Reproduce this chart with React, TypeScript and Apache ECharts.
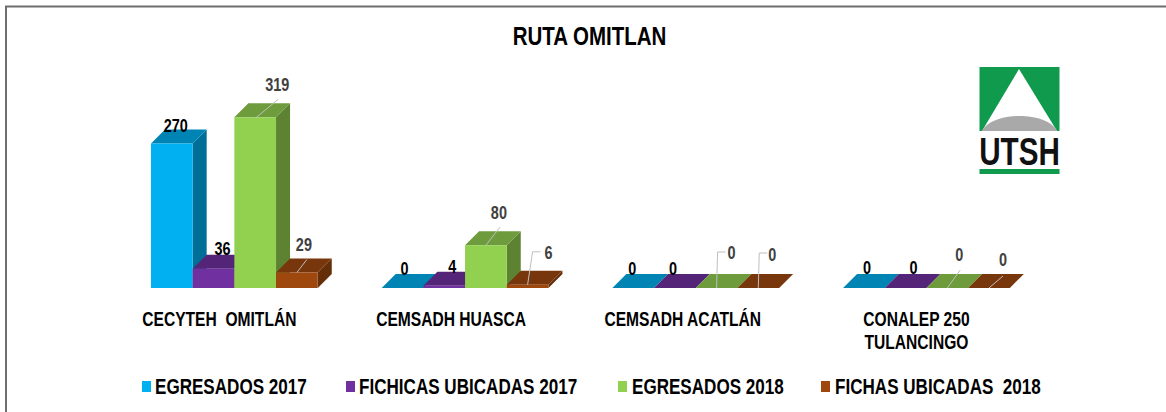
import React, { useEffect, useRef } from "react";
import * as echarts from "echarts";

const categories = ["CECYTEH  OMITLÁN", "CEMSADH HUASCA", "CEMSADH ACATLÁN", "CONALEP 250\nTULANCINGO"];
const seriesNames = ["EGRESADOS 2017", "FICHICAS UBICADAS 2017", "EGRESADOS 2018", "FICHAS UBICADAS  2018"];
const titleText = "RUTA OMITLAN";
const egresados2017 = [270, 0, 0, 0];
const fichas2017 = [36, 4, 0, 0];
const egresados2018 = [319, 80, 0, 0];
const fichas2018 = [29, 6, 0, 0];
const allValues = [egresados2017, fichas2017, egresados2018, fichas2018];

const frontColors = ["#00b0f0", "#7030a0", "#92d050", "#9e480e"];
const topColors = ["#0084b4", "#542478", "#6e9c3c", "#77360b"];
const sideColors = ["#006f97", "#461e65", "#5d8332", "#642e09"];

// label offsets from the centre of the bar's front-top edge
const labelOffsets = [
  [[4, -18], [2, -19], [-1, -19], [3, -20]],
  [[9, -20], [8, -19], [-2, -19], [8, -20]],
  [[22, -33], [13, -32], [15, -35], [12, -33]],
  [[7, -28], [21, -32], [14, -33], [14, -28]],
];
const leaders: (number[][] | null)[][] = [
  [null, null, null, null],
  [null, null, null, null],
  [[[0, 1], [23, -18]], [[0, 0], [14, -18]], [[0, 0], [1, -36], [9, -36]], [[0, 0], [13, -18]]],
  [[[0, 0], [10, -13]], [[0, 0], [5, -33], [13, -33]], [[0, 0], [1, -35], [9, -35]], [[0, 0], [14, -12]]],
];
const darkLabel = [true, true, false, false];
const categoryOffsets = [-15, -14, -13, -10];
const legendIconX = [142, 346, 618, 821];
const legendTextX = [155, 359, 632, 835];

const FONT = "'Liberation Sans', Arial, sans-serif";
const DEPTH = 14;
const BAR_SHARE = 0.1807;

echarts.graphic.registerShape(
  "utshPeak",
  echarts.graphic.extendPath("M1019 69 L1057 131 L982 131 Z", {})
);
echarts.graphic.registerShape(
  "utshDome",
  echarts.graphic.extendPath("M982 131 C992 111 1047 111 1057 131 Z", {})
);

function makeSeries(si: number) {
  return {
    type: "custom",
    name: seriesNames[si],
    coordinateSystem: "cartesian2d",
    itemStyle: { color: frontColors[si] },
    encode: { x: 0, y: 1 },
    data: allValues[si].map((v, i) => [i, v]),
    renderItem: (_p: any, api: any) => {
      const idx = api.value(0);
      const val = api.value(1);
      const base = api.coord([idx, 0]);
      const top = api.coord([idx, val]);
      const w = api.size([1, 0])[0] * BAR_SHARE;
      const l = base[0] - 2 * w + si * w;
      const r = l + w;
      const y0 = base[1];
      const y1 = top[1];
      const cx = (l + r) / 2;
      const children: any[] = [];
      children.push({
        type: "polygon",
        shape: { points: [[r, y0], [r + DEPTH, y0 - DEPTH], [r + DEPTH, y1 - DEPTH], [r, y1]] },
        style: { fill: sideColors[si] },
      });
      children.push({
        type: "polygon",
        shape: { points: [[l, y1], [l + DEPTH, y1 - DEPTH], [r + DEPTH, y1 - DEPTH], [r, y1]] },
        style: { fill: topColors[si] },
      });
      if (val > 0) {
        children.push({
          type: "rect",
          shape: { x: l, y: y1, width: w, height: y0 - y1 },
          style: { fill: frontColors[si] },
        });
      }
      const lead = leaders[si][idx];
      if (lead) {
        children.push({
          type: "polyline",
          shape: { points: lead.map((p) => [cx + p[0], y1 + p[1]]) },
          style: { stroke: "#bfbfbf", lineWidth: 1, fill: "none" },
          z2: 5,
        });
      }
      const off = labelOffsets[si][idx];
      children.push({
        type: "text",
        x: cx + off[0],
        y: y1 + off[1],
        scaleX: 0.76,
        style: {
          text: String(val),
          fill: darkLabel[si] ? "#000000" : "#404040",
          font: `bold 19px ${FONT}`,
          align: "center",
          verticalAlign: "middle",
        },
        z2: 10,
      });
      return { type: "group", children };
    },
  };
}

const categoryLabelSeries = {
  type: "custom",
  coordinateSystem: "cartesian2d",
  encode: { x: 0, y: 1 },
  silent: true,
  data: categories.map((_, i) => [i, 0]),
  renderItem: (_p: any, api: any) => {
    const idx = api.value(0);
    const base = api.coord([idx, 0]);
    return {
      type: "text",
      x: base[0] + categoryOffsets[idx],
      y: base[1] + 20,
      scaleX: 0.78,
      style: {
        text: categories[idx],
        fill: "#000000",
        font: `bold 20px ${FONT}`,
        lineHeight: 23,
        align: "center",
        verticalAlign: "top",
      },
    };
  },
};

export default function App() {
  const ref = useRef<HTMLDivElement>(null);
  useEffect(() => {
    document.body.style.margin = "0";
    const chart = echarts.init(ref.current!, undefined, { renderer: "svg" });
    chart.setOption({
      animation: false,
      backgroundColor: "#ffffff",
      grid: { left: 119, width: 922.8, top: 74, height: 214 },
      xAxis: {
        type: "category",
        data: categories,
        axisLine: { show: false },
        axisTick: { show: false },
        axisLabel: { show: false },
      },
      yAxis: { type: "value", min: 0, max: 400, show: false },
      legend: seriesNames.map((n, i) => ({
        data: [n],
        left: legendIconX[i],
        top: 381,
        padding: 0,
        icon: "rect",
        itemWidth: 9,
        itemHeight: 11,
        selectedMode: false,
        formatter: () => " ",
        textStyle: { fontSize: 10 },
      })),
      series: [...allValues.map((_, si) => makeSeries(si)), categoryLabelSeries],
      graphic: [
        { type: "line", shape: { x1: 5, y1: 6.5, x2: 1166, y2: 6.5 }, style: { stroke: "#6e6e6e", lineWidth: 2 } },
        { type: "line", shape: { x1: 6, y1: 6, x2: 6, y2: 412 }, style: { stroke: "#6e6e6e", lineWidth: 2 } },
        {
          type: "text",
          x: 589.5,
          y: 36,
          scaleX: 0.82,
          style: {
            text: titleText,
            fill: "#000000",
            font: `bold 25px ${FONT}`,
            align: "center",
            verticalAlign: "middle",
          },
        },
        ...seriesNames.map((n, i) => ({
          type: "text",
          x: legendTextX[i],
          y: 386,
          scaleX: 0.776,
          style: {
            text: n,
            fill: "#000000",
            font: `bold 22px ${FONT}`,
            align: "left",
            verticalAlign: "middle",
          },
        })),
        { type: "rect", shape: { x: 979.5, y: 67, width: 80, height: 64 }, style: { fill: "#0f9a4e" } },
        { type: "utshPeak", style: { fill: "#ffffff" } },
        { type: "utshDome", style: { fill: "#a9a9a9" } },
        {
          type: "text",
          x: 1019.5,
          y: 152,
          scaleX: 0.78,
          style: {
            text: "UTSH",
            fill: "#111111",
            font: `bold 38px ${FONT}`,
            align: "center",
            verticalAlign: "middle",
          },
        },
        { type: "rect", shape: { x: 979.5, y: 169, width: 80, height: 5 }, style: { fill: "#0f9a4e" } },
      ],
    });
    return () => chart.dispose();
  }, []);
  return <div ref={ref} style={{ width: 1166, height: 412 }} />;
}
